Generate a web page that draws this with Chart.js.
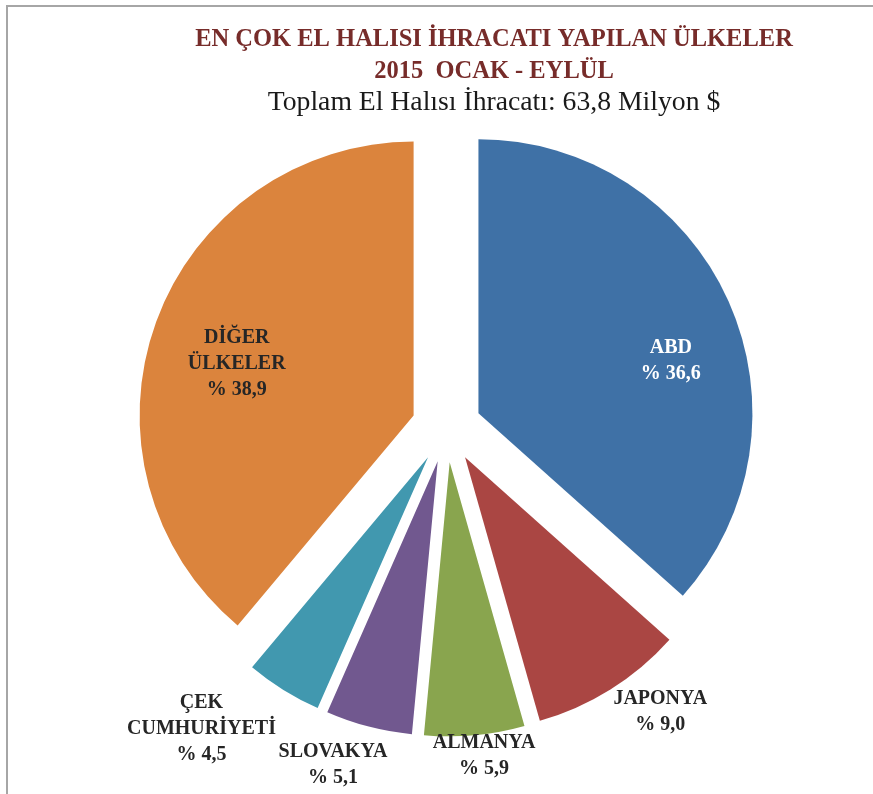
<!DOCTYPE html>
<html>
<head>
<meta charset="utf-8">
<script src="https://cdn.jsdelivr.net/npm/chart.js@4.4.1/dist/chart.umd.min.js"></script>
<style>
    html, body { margin: 0; padding: 0; background: #fff; overflow: hidden; }
    #wrap { position: relative; width: 873px; height: 794px; }
    #frame { position: absolute; left: 6px; top: 5px; width: 900px; height: 900px;
             border-left: 2px solid #a6a6a6; border-top: 2px solid #a6a6a6; }
    canvas { position: absolute; left: 0; top: 0; }
</style>
</head>
<body>
<div id="wrap">
    <div id="frame"></div>
    <canvas id="pieChart" width="873" height="794"></canvas>
</div>
<script>
// chart data
const countries = ['ABD', 'JAPONYA', 'ALMANYA', 'SLOVAKYA', 'ÇEK CUMHURİYETİ', 'DİĞER ÜLKELER'];
const shares = [36.6, 9.0, 5.9, 5.1, 4.5, 38.9];
const labelLines = [['ABD'], ['JAPONYA'], ['ALMANYA'], ['SLOVAKYA'], ['ÇEK', 'CUMHURİYETİ'], ['DİĞER', 'ÜLKELER']];
const titleLines = ['EN ÇOK EL HALISI İHRACATI YAPILAN ÜLKELER', '2015  OCAK - EYLÜL'];
const subtitleText = 'Toplam El Halısı İhracatı: 63,8 Milyon $';

const sliceColors = ['#3F71A6', '#AA4643', '#89A54E', '#71588F', '#4198AF', '#DB843D'];
const labelColors = ['#ffffff', '#262626', '#262626', '#262626', '#262626', '#262626'];
// label placement: distance (x radius) and turn (degrees) from slice middle
const labelRadius = [0.854, 1.298, 1.207, 1.30, 1.416, 0.80];
const labelTurn = [7.6, -4.9, -1.3, 4.0, 7.3, -3.1];

function formatShare(v) {
    return '% ' + v.toFixed(1).replace('.', ',');
}

// pull every slice out from the centre by the same distance
const explodePlugin = {
    id: 'explode',
    beforeDatasetDraw(chart, args, opts) {
        const ctx = chart.ctx;
        args.meta.data.forEach(function(arc) {
            const mid = (arc.startAngle + arc.endAngle) / 2;
            ctx.save();
            ctx.translate(Math.cos(mid) * opts.distance, Math.sin(mid) * opts.distance);
            arc.draw(ctx);
            ctx.restore();
        });
        return false;
    }
};

const sliceLabelPlugin = {
    id: 'sliceLabels',
    afterDatasetsDraw(chart, args, opts) {
        const ctx = chart.ctx;
        const arcs = chart.getDatasetMeta(0).data;
        ctx.save();
        ctx.font = opts.font;
        ctx.textAlign = 'center';
        ctx.textBaseline = 'middle';
        arcs.forEach(function(arc, i) {
            const ang = (arc.startAngle + arc.endAngle) / 2 + labelTurn[i] * Math.PI / 180;
            const r = arc.outerRadius * labelRadius[i];
            const cx = arc.x + Math.cos(ang) * r;
            const cy = arc.y + Math.sin(ang) * r;
            const lines = labelLines[i].concat([formatShare(shares[i])]);
            const top = cy - (lines.length - 1) * opts.lineHeight / 2;
            ctx.fillStyle = labelColors[i];
            lines.forEach(function(line, k) {
                ctx.fillText(line, cx, top + k * opts.lineHeight);
            });
        });
        ctx.restore();
    }
};

const headerPlugin = {
    id: 'header',
    afterDraw(chart, args, opts) {
        const ctx = chart.ctx;
        ctx.save();
        ctx.textAlign = 'center';
        ctx.textBaseline = 'middle';
        ctx.fillStyle = opts.titleColor;
        ctx.font = opts.titleFont;
        titleLines.forEach(function(t, k) {
            ctx.fillText(t, opts.x, opts.titleY[k]);
        });
        ctx.fillStyle = opts.subtitleColor;
        ctx.font = opts.subtitleFont;
        ctx.fillText(subtitleText, opts.x, opts.subtitleY);
        ctx.restore();
    }
};

new Chart(document.getElementById('pieChart').getContext('2d'), {
    type: 'pie',
    data: {
        labels: countries,
        datasets: [{
            data: shares,
            backgroundColor: sliceColors,
            borderWidth: 0
        }]
    },
    options: {
        responsive: false,
        animation: false,
        radius: 274,
        layout: {
            padding: { left: 20, right: 0, top: 61, bottom: 0 }
        },
        plugins: {
            legend: { display: false },
            tooltip: { enabled: false },
            explode: { distance: 35 },
            sliceLabels: {
                font: 'bold 20px "Liberation Serif"',
                lineHeight: 26
            },
            header: {
                x: 494,
                titleY: [40, 72],
                subtitleY: 103,
                titleColor: '#772C2A',
                titleFont: 'bold 24.5px "Liberation Serif"',
                subtitleColor: '#1a1a1a',
                subtitleFont: '27.7px "Liberation Serif"'
            }
        }
    },
    plugins: [explodePlugin, sliceLabelPlugin, headerPlugin]
});
</script>
</body>
</html>
